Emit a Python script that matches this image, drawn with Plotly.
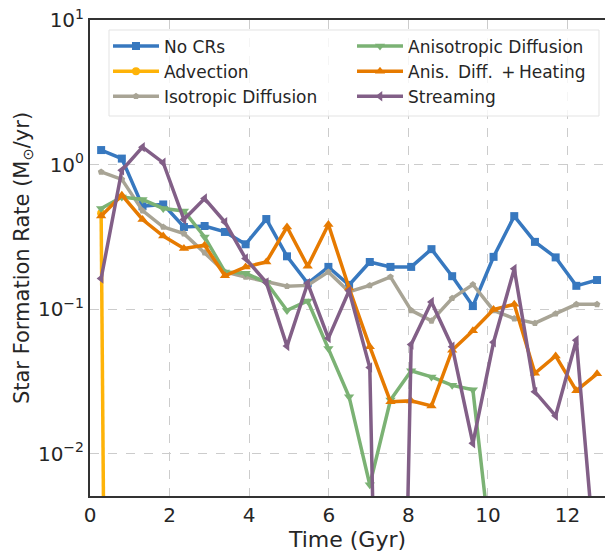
import plotly.graph_objects as go
import math

# Simulation output times (Gyr)
time_gyr = [0.28, 0.80, 1.32, 1.84, 2.36, 2.88, 3.39, 3.91, 4.43, 4.95,
            5.47, 5.99, 6.51, 7.03, 7.55, 8.07, 8.58, 9.10, 9.62, 10.14,
            10.66, 11.18, 11.70, 12.22, 12.74]

# Star formation rates (Msun/yr) per run
sfr_no_crs = [1.26, 1.10, 0.515, 0.53, 0.37, 0.376, 0.342, 0.281, 0.42, 0.232,
              0.151, 0.196, 0.147, 0.212, 0.196, 0.196, 0.26, 0.169, 0.105, 0.23,
              0.44, 0.292, 0.228, 0.145, 0.159]
sfr_advection = [0.46, 1e-18]
sfr_isotropic = [0.89, 0.79, 0.48, 0.37, 0.333, 0.246, 0.181, 0.167, 0.155, 0.144,
                 0.146, 0.181, 0.132, 0.146, 0.167, 0.098, 0.083, 0.119, 0.148, 0.098,
                 0.086, 0.080, 0.093, 0.108, 0.108]
sfr_anisotropic = [0.497, 0.597, 0.573, 0.497, 0.478, 0.316, 0.181, 0.177, 0.153, 0.098,
                   0.114, 0.0535, 0.0248, 0.0061, 0.0235, 0.0375, 0.034, 0.0297, 0.0277, 0.0015]
sfr_anis_heating = [0.44, 0.614, 0.417, 0.32, 0.263, 0.277, 0.17, 0.196, 0.212, 0.37,
                    0.198, 0.385, 0.14, 0.055, 0.0229, 0.0232, 0.0214, 0.052, 0.071, 0.0995,
                    0.108, 0.036, 0.0475, 0.0273, 0.0357]
sfr_streaming = [0.163, 0.913, 1.32, 1.03, 0.417, 0.582, 0.40, 0.224, 0.153, 0.0555,
                 0.151, 0.063, 0.134, 0.0395, 1e-8, 0.057, 0.112, 0.055, 0.0118, 0.059,
                 0.19, 0.0268, 0.0183, 0.061, 0.0013]

x_ticks = [0, 2, 4, 6, 8, 10, 12]
y_tick_vals = [0.01, 0.1, 1, 10]
y_tick_text = ["10<sup>\u22122</sup>", "10<sup>\u22121</sup>", "10<sup>0</sup>", "10<sup>1</sup>"]

FONT = "DejaVu Sans"
TEXT = "#262626"

series = [
    ("No CRs", sfr_no_crs, "#3778bf", "square", 8, "legend"),
    ("Advection", sfr_advection, "#feb308", "circle", 8, "legend"),
    ("Isotropic Diffusion", sfr_isotropic, "#a8a495", "pentagon", 7, "legend"),
    ("Anisotropic Diffusion", sfr_anisotropic, "#7bb274", "triangle-down", 9, "legend2"),
    ("Anis.\u2002Diff.\u2002+\u2009Heating", sfr_anis_heating, "#e67a00", "triangle-up", 9, "legend2"),
    ("Streaming", sfr_streaming, "#825f87", "triangle-left", 9, "legend2"),
]

fig = go.Figure()
for name, vals, color, symbol, msize, leg in series:
    fig.add_trace(go.Scatter(
        x=time_gyr[:len(vals)], y=vals, name=name, mode="lines+markers",
        line=dict(color=color, width=3.5),
        marker=dict(symbol=symbol, size=msize, color=color, line=dict(width=0)),
        legend=leg,
    ))

# Legend frame around both columns
fig.add_shape(type="rect", xref="paper", yref="paper",
              x0=(109 - 90) / 515, x1=(599 - 90) / 515,
              y0=1 - (116 - 20) / 476, y1=1 - (30 - 20) / 476,
              line=dict(color="#e3e3e3", width=1),
              fillcolor="rgba(255,255,255,0.8)", layer="above")

legend_common = dict(font=dict(family=FONT, size=17, color=TEXT),
                     bgcolor="rgba(0,0,0,0)", borderwidth=0,
                     xanchor="left", yanchor="top", tracegroupgap=0,
                     itemwidth=46)

fig.update_layout(
    width=605, height=554,
    margin=dict(l=90, r=0, t=20, b=58),
    paper_bgcolor="white", plot_bgcolor="white",
    font=dict(family=FONT, color=TEXT),
    showlegend=True,
    legend=dict(x=(108 - 90) / 515, y=1 - (28.5 - 20) / 476, **legend_common),
    legend2=dict(x=(352 - 90) / 515, y=1 - (28.5 - 20) / 476, **legend_common),
    xaxis=dict(
        range=[0, 12.94], tickvals=x_ticks, ticks="",
        showgrid=True, gridcolor="#cccccc", griddash="dash", gridwidth=1,
        showline=True, linecolor="#333333", linewidth=2, mirror=True,
        zeroline=False,
        tickfont=dict(family=FONT, size=20, color=TEXT),
        title=dict(text="Time (Gyr)", font=dict(family=FONT, size=22, color=TEXT), standoff=6),
    ),
    yaxis=dict(
        type="log", range=[math.log10(0.0051), 1],
        tickvals=y_tick_vals, ticktext=y_tick_text, ticks="",
        showgrid=True, gridcolor="#cccccc", griddash="dash", gridwidth=1,
        showline=True, linecolor="#333333", linewidth=2, mirror=False,
        zeroline=False,
        tickfont=dict(family=FONT, size=20, color=TEXT),
        title=dict(text="Star Formation Rate (M<sub>\u2299</sub>/yr)",
                   font=dict(family=FONT, size=21, color=TEXT), standoff=3),
    ),
)

fig.write_html("out.html")
